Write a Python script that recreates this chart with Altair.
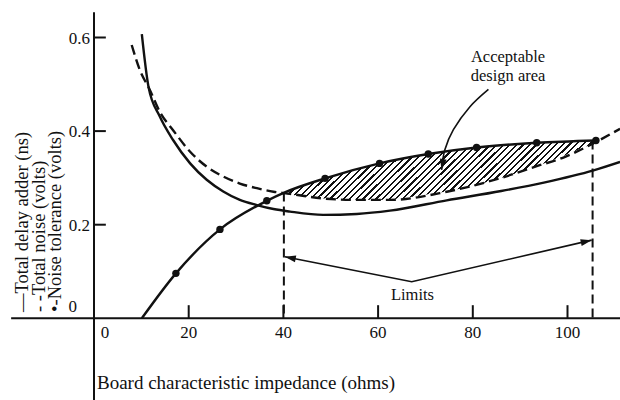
import math
import altair as alt
import pandas as pd

# ---------------- data ----------------
delay_x = [10.1, 11.5, 13.9, 16.7, 20.3, 23.8, 27.3, 30.8, 34.4, 37.9, 41.4, 48.4, 55.5, 62.5, 74.5, 86.0, 95.0, 105.5, 111.1]
delay_y = [0.607, 0.495, 0.431, 0.381, 0.331, 0.296, 0.271, 0.253, 0.242, 0.2335, 0.228, 0.221, 0.223, 0.230, 0.252, 0.272, 0.290, 0.316, 0.334]

noise_x = [7.96, 9.7, 11.8, 13.9, 16.7, 20.3, 23.8, 27.3, 30.8, 34.4, 37.9, 41.4, 48.4, 55.5, 62.5, 74.5, 86.0, 93.5, 99.5, 105.5, 111.1]
noise_y = [0.584, 0.530, 0.488, 0.441, 0.402, 0.356, 0.324, 0.303, 0.288, 0.278, 0.2705, 0.266, 0.256, 0.253, 0.253, 0.2705, 0.300, 0.325, 0.345, 0.374, 0.405]

tol_x = [10.1, 17.3, 26.6, 36.5, 40.3, 48.8, 60.3, 70.6, 80.8, 93.5, 106.0]
tol_y = [0.0, 0.096, 0.190, 0.251, 0.269, 0.299, 0.331, 0.351, 0.365, 0.375, 0.380]
tol_dot = [False, True, True, True, False, True, True, True, True, True, True]

area_x = [40.3, 48.8, 60.3, 70.6, 80.8, 93.5, 105.5]
area_top = [0.269, 0.299, 0.331, 0.351, 0.365, 0.375, 0.379]
area_bottom = [0.266, 0.256, 0.253, 0.265, 0.285, 0.325, 0.374]

limit_x = [40.1, 105.3]
limit_top = [0.269, 0.380]

limits_arrow_x = [40.3, 67.1, 105.1]
limits_arrow_y = [0.1316, 0.078, 0.167]

accept_arrow_x = [83.3, 79.4, 75.9, 74.1, 73.4]
accept_arrow_y = [0.489, 0.452, 0.403, 0.360, 0.317]

x_ticks = [20, 40, 60, 80, 100]
x_tick_labels = ["20", "40", "60", "80", "100"]
y_ticks = [0.2, 0.4, 0.6]
y_tick_labels = ["0.2", "0.4", "0.6"]

legend_lines = ["\u2014Total delay adder (ns)", "- -Total noise (volts)", "\u2022-Noise tolerance (volts)"]
x_title = "Board characteristic impedance (ohms)"
accept_text = ["Acceptable", "design area"]
limits_text = "Limits"

# ---------------- layout ----------------
W, H = 620, 400
X0, PXX = 94.0, 4.735      # pixel of x=0, pixels per x unit
Y0, PXY = 318.3, 468.0     # pixel of y=0, pixels per y unit
XS = alt.Scale(domain=[-X0 / PXX, (W - X0) / PXX], nice=False, zero=False)
YS = alt.Scale(domain=[(Y0 - H) / PXY, Y0 / PXY], nice=False, zero=False)
FONT = "Liberation Serif"
INK = "#111111"


def X(field, **kw):
    return alt.X(field, type="quantitative", scale=XS, axis=None, **kw)


def Y(field, **kw):
    return alt.Y(field, type="quantitative", scale=YS, axis=None, **kw)


def XD(v):
    return alt.X(datum=v, type="quantitative", scale=XS, axis=None)


def YD(v):
    return alt.Y(datum=v, type="quantitative", scale=YS, axis=None)


delay_df = pd.DataFrame({"x": delay_x, "y": delay_y})
noise_df = pd.DataFrame({"x": noise_x, "y": noise_y})
tol_df = pd.DataFrame({"x": tol_x, "y": tol_y, "dot": tol_dot})
area_df = pd.DataFrame({"x": area_x, "top": area_top, "bottom": area_bottom})
limit_df = pd.DataFrame({"x": limit_x, "top": limit_top, "base": [0.0] * len(limit_x)})
xt_df = pd.DataFrame({"x": x_ticks, "label": x_tick_labels})
yt_df = pd.DataFrame({"y": y_ticks, "label": y_tick_labels})


def arrow_path(xs, ys):
    return pd.DataFrame({"x": xs, "y": ys, "o": list(range(len(xs)))})


def arrow_head(xs, ys, length=11.0):
    # direction of the last segment, in pixel space
    dx = (xs[-1] - xs[-2]) * PXX
    dy = -(ys[-1] - ys[-2]) * PXY
    n = math.hypot(dx, dy)
    ux, uy = dx / n, dy / n
    ang = math.degrees(math.atan2(ux, -uy)) % 360
    cx = xs[-1] - ux * length / 2 / PXX
    cy = ys[-1] + uy * length / 2 / PXY
    return {"x": cx, "y": cy, "angle": ang}


# hatch pattern for the acceptable design area
N = 56
stops = []
for k in range(N):
    a, b, c = k / N, (k + 0.66) / N, (k + 1) / N
    stops += [alt.GradientStop(color="white", offset=a),
              alt.GradientStop(color="white", offset=b),
              alt.GradientStop(color=INK, offset=b),
              alt.GradientStop(color=INK, offset=c)]
hatch = alt.Gradient(gradient="linear", stops=stops, x1=0, y1=0, x2=1.15, y2=0.223)

layers = []

# hatched area
layers.append(alt.Chart(area_df).mark_area(fill=hatch, interpolate="monotone").encode(
    x=X("x"), y=Y("top"), y2="bottom"))

# axes
axis_base = alt.Chart(pd.DataFrame({"k": [0]}))
layers.append(axis_base.mark_rule(color=INK, strokeWidth=2).encode(x=XD(0), y=YD(YS.domain[0]), y2=alt.datum(0.654)))
layers.append(axis_base.mark_rule(color=INK, strokeWidth=2).encode(x=XD(-17.5), x2=alt.datum(XS.domain[1]), y=YD(0)))

# ticks
layers.append(alt.Chart(xt_df).mark_rule(color=INK, strokeWidth=2).encode(
    x=X("x"), y=YD(0), y2=alt.datum(0.028)))
layers.append(alt.Chart(yt_df).mark_rule(color=INK, strokeWidth=2).encode(
    x=XD(0), x2=alt.datum(2.5), y=Y("y")))

# tick labels
tl = dict(font=FONT, fontSize=17, color=INK)
layers.append(alt.Chart(xt_df).mark_text(baseline="middle", align="center", dy=15, **tl).encode(
    x=X("x"), y=YD(0), text="label"))
layers.append(axis_base.mark_text(baseline="middle", align="center", dx=11, dy=15, **tl).encode(
    x=XD(0), y=YD(0), text=alt.value("0")))
layers.append(alt.Chart(yt_df).mark_text(baseline="middle", align="right", dx=-4, dy=1, **tl).encode(
    x=XD(0), y=Y("y"), text="label"))
layers.append(axis_base.mark_text(baseline="middle", align="right", dx=-17, dy=-11, **tl).encode(
    x=XD(0), y=YD(0), text=alt.value("0")))

# limit lines
layers.append(alt.Chart(limit_df).mark_rule(color=INK, strokeWidth=2, strokeDash=[9, 5]).encode(
    x=X("x"), y=Y("top"), y2="base"))

# curves
layers.append(alt.Chart(delay_df).mark_line(color=INK, strokeWidth=2.4, interpolate="monotone", clip=True).encode(
    x=X("x"), y=Y("y")))
layers.append(alt.Chart(noise_df).mark_line(color=INK, strokeWidth=2.4, strokeDash=[10, 5], interpolate="monotone", clip=True).encode(
    x=X("x"), y=Y("y")))
layers.append(alt.Chart(tol_df).mark_line(color=INK, strokeWidth=2.4, interpolate="monotone").encode(
    x=X("x"), y=Y("y")))
layers.append(alt.Chart(tol_df).transform_filter("datum.dot").mark_point(
    filled=True, color=INK, size=55, opacity=1, shape="circle").encode(x=X("x"), y=Y("y")))

# arrows
ARROW = "M0,-1L0.62,1L-0.62,1Z"
layers.append(alt.Chart(arrow_path(limits_arrow_x, limits_arrow_y)).mark_line(
    color=INK, strokeWidth=1.6, interpolate="linear").encode(x=X("x"), y=Y("y"), order="o:Q"))
layers.append(alt.Chart(arrow_path(accept_arrow_x, accept_arrow_y)).mark_line(
    color=INK, strokeWidth=1.6, interpolate="cardinal").encode(x=X("x"), y=Y("y"), order="o:Q"))
heads = [arrow_head(limits_arrow_x[:2][::-1], limits_arrow_y[:2][::-1]),
         arrow_head(limits_arrow_x[1:], limits_arrow_y[1:]),
         arrow_head(accept_arrow_x, accept_arrow_y)]
layers.append(alt.Chart(pd.DataFrame(heads)).mark_point(
    filled=True, color=INK, size=121, opacity=1, shape=ARROW).encode(
    x=X("x"), y=Y("y"), angle=alt.Angle("angle:Q", scale=None)))

# annotations
ann = dict(font=FONT, fontSize=16.5, color=INK, align="center", baseline="middle")
layers.append(axis_base.mark_text(**ann).encode(
    x=alt.value(508), y=alt.value(57), text=alt.value(accept_text[0])))
layers.append(axis_base.mark_text(**ann).encode(
    x=alt.value(508), y=alt.value(76), text=alt.value(accept_text[1])))
layers.append(axis_base.mark_text(**ann).encode(
    x=alt.value(412.5), y=alt.value(295), text=alt.value(limits_text)))

# axis titles
layers.append(axis_base.mark_text(font=FONT, fontSize=19, color=INK, align="left", baseline="middle").encode(
    x=alt.value(97), y=alt.value(383), text=alt.value(x_title)))
for px, line in zip([28, 45, 61], legend_lines):
    layers.append(axis_base.mark_text(font=FONT, fontSize=18.5, color=INK, align="left",
                                      baseline="alphabetic", angle=270).encode(
        x=alt.value(px), y=alt.value(312), text=alt.value(line)))

chart = alt.layer(*layers).properties(
    width=W, height=H, padding=0, autosize=alt.AutoSizeParams(type="none"),
    background="white",
).configure_view(stroke=None)

chart.save("out.html", embed_options={"renderer": "svg", "actions": False})
